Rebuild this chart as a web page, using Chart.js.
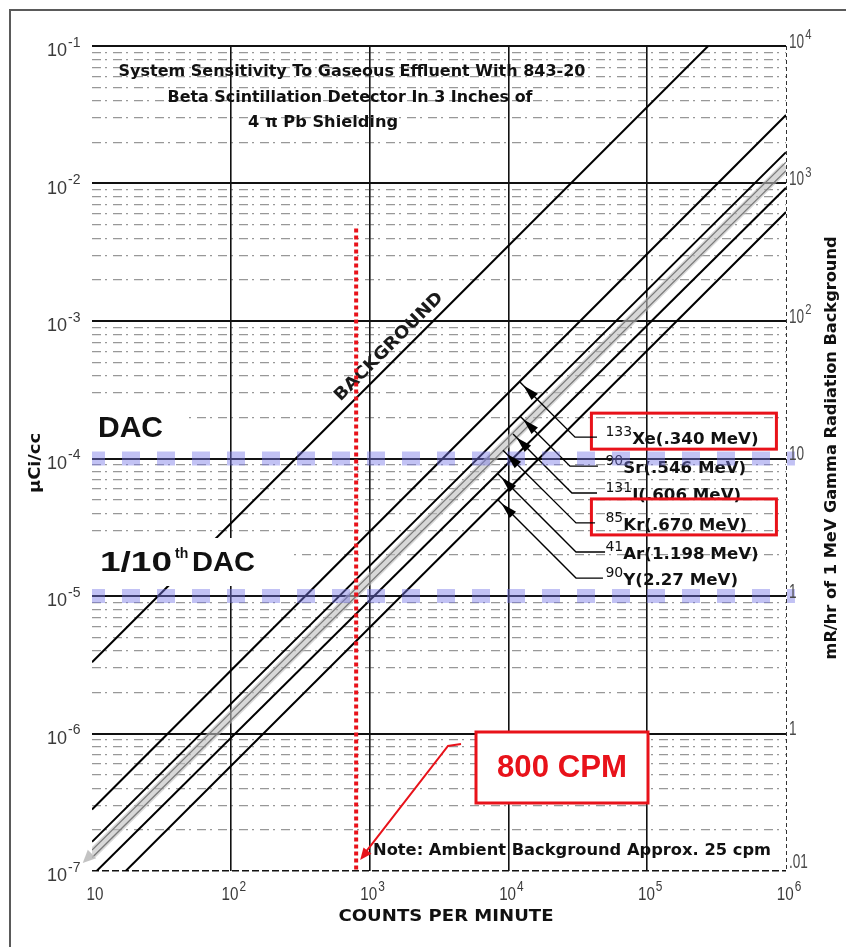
<!DOCTYPE html>
<html>
<head>
<meta charset="utf-8">
<title>System Sensitivity To Gaseous Effluent</title>
<script src="https://cdn.jsdelivr.net/npm/chart.js@4.4.1/dist/chart.umd.min.js"></script>
<style>
  html, body { margin: 0; padding: 0; background: #fff; }
  #wrap { width: 846px; height: 947px; }
</style>
</head>
<body>
<div id="wrap"><canvas id="chart" width="846" height="947"></canvas></div>
<script>
// axes: counts per minute (x) and uCi/cc (y), right axis mR/hr
const xDecades = [10, 1e2, 1e3, 1e4, 1e5, 1e6];
const xTickExp = ["", "2", "3", "4", "5", "6"];
const yDecades = [1e-7, 1e-6, 1e-5, 1e-4, 1e-3, 1e-2, 1e-1];
const yTickExp = ["-7", "-6", "-5", "-4", "-3", "-2", "-1"];
const rightTickBase = [".01", "1", "1", "10", "10", "10", "10"];
const rightTickExp = ["", "", "", "", "2", "3", "4"];
const minorSteps = [2, 3, 4, 5, 6, 7, 8, 9];

// sensitivity lines, end points (cpm, uCi/cc)
const backgroundCpm = [10, 2.75e5];
const backgroundConc = [3.3e-6, 1e-1];
const lineACpm = [10, 1e6];
const lineAConc = [2.8e-7, 3.15e-2];
const lineBCpm = [10, 1e6];
const lineBConc = [1.63e-7, 1.69e-2];
const greyHiCpm = [10, 1e6];
const greyHiConc = [1.42e-7, 1.43e-2];
const greyLoCpm = [10, 1e6];
const greyLoConc = [1.25e-7, 1.24e-2];
const bandCpm = [10, 1e6];
const bandConc = [1.33e-7, 1.33e-2];
const lineCCpm = [10.8, 1e6];
const lineCConc = [1e-7, 9.3e-3];
const lineDCpm = [17.5, 1e6];
const lineDConc = [1e-7, 6.2e-3];

// isotope call-outs
const isotopeMass = ["133", "90", "131", "85", "41", "90"];
const isotopeName = ["Xe(.340 MeV)", "Sr(.546 MeV)", "I(.606 MeV)", "Kr(.670 MeV)", "Ar(1.198 MeV)", "Y(2.27 MeV)"];
const isotopeBoxed = [true, false, false, true, false, false];
const leaderStartCpm = [1.21e4, 1.21e4, 1.08e4, 9.14e3, 8.42e3, 8.42e3];
const leaderStartConc = [3.6e-4, 2.04e-4, 1.51e-4, 1.15e-4, 7.72e-5, 4.99e-5];
const leaderElbowCpm = [3.02e4, 2.78e4, 2.87e4, 3.07e4, 3.07e4, 3.07e4];
const leaderElbowConc = [1.43e-4, 8.8e-5, 5.61e-5, 3.4e-5, 2.09e-5, 1.35e-5];
const leaderEndCpm = [4.35e4, 4.42e4, 4.35e4, 4.21e4, 4.97e4, 4.8e4];
const labelCpm = 5.0e4;

// DAC levels and the 800 cpm marker
const dacCpm = [10, 1.16e6];
const dacLevels = [1e-4, 1e-5];
const markerCpm = [800, 800];
const markerConc = [4.7e-3, 1e-7];

const RED = "#e8121a";

function pts(xs, ys) {
  return xs.map((x, i) => ({ x: x, y: ys[i] }));
}

function isDecade(v) {
  const l = Math.log10(v);
  return Math.abs(l - Math.round(l)) < 1e-6;
}

// draw text, optionally squeezed to a width or by a horizontal factor
function txt(ctx, s, x, y, font, color, opts) {
  opts = opts || {};
  ctx.save();
  ctx.font = font;
  ctx.fillStyle = color;
  ctx.textBaseline = "middle";
  ctx.textAlign = "left";
  const w = ctx.measureText(s).width;
  const sx = opts.width ? opts.width / w : (opts.sx || 1);
  const align = opts.align || "left";
  const left = align === "center" ? x - w * sx / 2 : align === "right" ? x - w * sx : x;
  ctx.translate(left, y);
  ctx.scale(sx, 1);
  ctx.fillText(s, 0, 0);
  ctx.restore();
  return w * sx;
}

function arrowHead(ctx, tipX, tipY, fromX, fromY, len, half, color) {
  const a = Math.atan2(tipY - fromY, tipX - fromX);
  ctx.save();
  ctx.translate(tipX, tipY);
  ctx.rotate(a);
  ctx.beginPath();
  ctx.moveTo(0, 0);
  ctx.lineTo(-len, -half);
  ctx.lineTo(-len, half);
  ctx.closePath();
  ctx.fillStyle = color;
  ctx.fill();
  ctx.restore();
}

const yGrid = [];
yDecades.forEach(d => {
  yGrid.push(d);
  if (d < 1e-1) minorSteps.forEach(m => yGrid.push(d * m));
});

const overlay = {
  id: "overlay",
  beforeDatasetsDraw(chart) {
    const ctx = chart.ctx;
    const xs = chart.scales.x, ys = chart.scales.y;
    const titleFont = 'bold 15px "DejaVu Sans"';
    txt(ctx, "System Sensitivity To Gaseous Effluent With 843-20", 352, 72, titleFont, "#111", { align: "center", width: 467 });
    txt(ctx, "Beta Scintillation Detector In 3 Inches of", 350, 98, titleFont, "#111", { align: "center", width: 365 });
    txt(ctx, "4 \u03c0 Pb Shielding", 323, 123, titleFont, "#111", { align: "center", width: 150 });

    ctx.save();
    ctx.translate(389, 347);
    ctx.rotate(-Math.PI / 4);
    txt(ctx, "BACKGROUND", 0, 0, 'bold 17px "DejaVu Sans"', "#1a1a1a", { align: "center", width: 146 });
    ctx.restore();

    const lx = xs.getPixelForValue(labelCpm);
    isotopeName.forEach((name, i) => {
      const y = ys.getPixelForValue(leaderElbowConc[i]) + 3;
      const w1 = txt(ctx, isotopeMass[i], lx, y - 8, '14px "DejaVu Sans"', "#111");
      txt(ctx, name, lx + w1, y, 'bold 16px "DejaVu Sans"', "#111", { sx: 1.04 });
      if (isotopeBoxed[i]) {
        ctx.save();
        ctx.strokeStyle = RED;
        ctx.lineWidth = 3;
        ctx.strokeRect(lx - 14, y - 27, 185, 36);
        ctx.restore();
      }
    });

    txt(ctx, "Note: Ambient Background Approx. 25 cpm", 373, 851, 'bold 15px "DejaVu Sans"', "#111", { width: 398 });
  },
  afterDatasetsDraw(chart) {
    const ctx = chart.ctx;
    const xs = chart.scales.x, ys = chart.scales.y;

    // arrow heads on the isotope leaders
    leaderStartCpm.forEach((c, i) => {
      const sx = xs.getPixelForValue(c), sy = ys.getPixelForValue(leaderStartConc[i]);
      const ex = xs.getPixelForValue(leaderElbowCpm[i]), ey = ys.getPixelForValue(leaderElbowConc[i]);
      const len = Math.hypot(ex - sx, ey - sy);
      const dx = (ex - sx) / len, dy = (ey - sy) / len;
      arrowHead(ctx, sx + dx * 5, sy + dy * 5, sx + dx * 25, sy + dy * 25, 16, 4.5, "#000");
    });

    // grey band end arrow
    const b0x = xs.getPixelForValue(bandCpm[0]), b0y = ys.getPixelForValue(bandConc[0]);
    const b1x = xs.getPixelForValue(bandCpm[1]), b1y = ys.getPixelForValue(bandConc[1]);
    const bl = Math.hypot(b0x - b1x, b0y - b1y);
    const ux = (b0x - b1x) / bl, uy = (b0y - b1y) / bl;
    arrowHead(ctx, b0x + ux * 13, b0y + uy * 13, b0x, b0y, 13, 6, "rgba(185,185,185,0.85)");

    // DAC labels on white
    ctx.fillStyle = "#fff";
    ctx.fillRect(92, 407, 93, 43);
    ctx.fillRect(92, 538, 198, 48);
    txt(ctx, "DAC", 98, 429, 'bold 30px "Liberation Sans"', "#111", { width: 65 });
    txt(ctx, "1/10", 100, 563, 'bold 28px "Liberation Sans"', "#111", { width: 72 });
    txt(ctx, "th", 175, 554, 'bold 14px "Liberation Sans"', "#111");
    txt(ctx, "DAC", 192, 563, 'bold 28px "Liberation Sans"', "#111", { width: 63 });

    // 800 CPM call-out
    ctx.save();
    ctx.fillStyle = "#fff";
    ctx.fillRect(476, 732, 172, 71);
    ctx.strokeStyle = RED;
    ctx.lineWidth = 3;
    ctx.strokeRect(476, 732, 172, 71);
    const tipX = xs.getPixelForValue(markerCpm[0]) + 4;
    const tipY = ys.getPixelForValue(1.2e-7);
    ctx.lineWidth = 2;
    ctx.beginPath();
    ctx.moveTo(461, 744);
    ctx.lineTo(448, 746);
    ctx.lineTo(tipX + 4, tipY - 6);
    ctx.stroke();
    ctx.restore();
    arrowHead(ctx, tipX, tipY, 448, 746, 12, 5, RED);
    txt(ctx, "800 CPM", 562, 768, 'bold 31px "Liberation Sans"', RED, { align: "center", width: 130 });

    // tick labels
    const tickCol = "#3a3a3a";
    yDecades.forEach((v, i) => {
      const py = ys.getPixelForValue(v);
      const w = txt(ctx, "10", 47, py + 5, '19px "Liberation Sans"', tickCol, { sx: 0.95 });
      txt(ctx, yTickExp[i], 48 + w, py - 3, '14px "Liberation Sans"', tickCol);
      const rb = txt(ctx, rightTickBase[i], 789, py - (i === 0 ? 9 : 4), '20px "Liberation Sans"', "#4a4a4a", { sx: 0.68 });
      if (rightTickExp[i]) txt(ctx, rightTickExp[i], 790 + rb, py - 11, '15px "Liberation Sans"', "#4a4a4a", { sx: 0.75 });
    });
    xDecades.forEach((v, i) => {
      const px = xs.getPixelForValue(v);
      ctx.font = '19px "Liberation Sans"';
      const wb = ctx.measureText("10").width * 0.8;
      ctx.font = '14px "Liberation Sans"';
      const we = xTickExp[i] ? ctx.measureText(xTickExp[i]).width * 0.85 + 1 : 0;
      const left = px + 3 - (wb + we) / 2;
      txt(ctx, "10", left, 895, '19px "Liberation Sans"', tickCol, { sx: 0.8 });
      if (xTickExp[i]) txt(ctx, xTickExp[i], left + wb + 1, 887, '14px "Liberation Sans"', tickCol, { sx: 0.85 });
    });

    // axis titles
    ctx.save();
    ctx.translate(36, 463);
    ctx.rotate(-Math.PI / 2);
    txt(ctx, "\u00b5Ci/cc", 0, 0, 'bold 16px "DejaVu Sans"', "#111", { align: "center", width: 60 });
    ctx.restore();
    txt(ctx, "COUNTS PER MINUTE", 446, 917, 'bold 15px "DejaVu Sans"', "#111", { align: "center", width: 215 });
    ctx.save();
    ctx.translate(832, 448);
    ctx.rotate(-Math.PI / 2);
    txt(ctx, "mR/hr of 1 MeV Gamma Radiation Background", 0, 0, 'bold 15px "DejaVu Sans"', "#111", { align: "center", width: 423 });
    ctx.restore();

    // outer frame
    ctx.save();
    ctx.strokeStyle = "#5a5a5a";
    ctx.lineWidth = 2;
    ctx.beginPath();
    ctx.moveTo(10, 947);
    ctx.lineTo(10, 10);
    ctx.lineTo(846, 10);
    ctx.stroke();
    ctx.restore();
  }
};

const black = { borderColor: "#000", borderWidth: 2 };
const datasets = [
  { label: "800 cpm", data: pts(markerCpm, markerConc), borderColor: RED, borderWidth: 4, borderDash: [4, 3], clip: 8 },
  { label: "DAC", data: pts(dacCpm, [dacLevels[0], dacLevels[0]]), borderColor: "rgba(120,120,230,0.45)", borderWidth: 14, borderDash: [18, 17], borderDashOffset: 5, clip: { left: 0, top: 10, right: 14, bottom: 10 } },
  { label: "1/10th DAC", data: pts(dacCpm, [dacLevels[1], dacLevels[1]]), borderColor: "rgba(120,120,230,0.45)", borderWidth: 14, borderDash: [18, 17], borderDashOffset: 5, clip: { left: 0, top: 10, right: 14, bottom: 10 } }
];
isotopeName.forEach((name, i) => {
  datasets.push({
    label: isotopeMass[i] + name,
    data: pts([leaderStartCpm[i], leaderElbowCpm[i], leaderEndCpm[i]], [leaderStartConc[i], leaderElbowConc[i], leaderElbowConc[i]]),
    borderColor: "#000", borderWidth: 1.4
  });
});
datasets.push(
  Object.assign({ label: "Background", data: pts(backgroundCpm, backgroundConc) }, black),
  Object.assign({ label: "A", data: pts(lineACpm, lineAConc) }, black),
  Object.assign({ label: "B", data: pts(lineBCpm, lineBConc) }, black),
  Object.assign({ label: "C", data: pts(lineCCpm, lineCConc) }, black),
  Object.assign({ label: "D", data: pts(lineDCpm, lineDConc) }, black),
  { label: "grey hi", data: pts(greyHiCpm, greyHiConc), borderColor: "#7a7a7a", borderWidth: 1.3 },
  { label: "grey lo", data: pts(greyLoCpm, greyLoConc), borderColor: "#7a7a7a", borderWidth: 1.3 },
  { label: "band", data: pts(bandCpm, bandConc), borderColor: "rgba(190,190,190,0.6)", borderWidth: 10 }
);

new Chart(document.getElementById("chart").getContext("2d"), {
  type: "scatter",
  data: { datasets: datasets },
  options: {
    responsive: false,
    animation: false,
    devicePixelRatio: 1,
    events: [],
    layout: { padding: { left: 92, right: 60, top: 46, bottom: 76 } },
    showLine: true,
    elements: { point: { radius: 0 }, line: { tension: 0, fill: false, borderCapStyle: "butt" } },
    plugins: { legend: { display: false }, tooltip: { enabled: false } },
    scales: {
      x: {
        type: "logarithmic",
        min: 10,
        max: 1e6,
        afterBuildTicks: s => { s.ticks = xDecades.map(v => ({ value: v })); },
        ticks: { display: false },
        grid: {
          drawTicks: false,
          color: c => !c.tick || c.tick.value <= 10 ? "rgba(0,0,0,0)" : (c.tick.value >= 1e6 ? "#333" : "#111"),
          lineWidth: c => c.tick && c.tick.value >= 1e6 ? 1 : 1.6
        },
        border: { display: false, dash: c => c.tick && c.tick.value >= 1e6 ? [4, 3] : [] }
      },
      y: {
        type: "logarithmic",
        min: 1e-7,
        max: 1e-1,
        afterBuildTicks: s => { s.ticks = yGrid.slice().sort((a, b) => a - b).map(v => ({ value: v })); },
        ticks: { display: false },
        grid: {
          drawTicks: false,
          color: c => !c.tick ? "#111" : (isDecade(c.tick.value) ? "#111" : "rgba(50,50,50,0.5)"),
          lineWidth: c => !c.tick ? 1 : (isDecade(c.tick.value) ? (c.tick.value < 2e-7 ? 1.5 : 2) : 1.2)
        },
        border: {
          display: false,
          dash: c => !c.tick ? [] : (isDecade(c.tick.value) ? (c.tick.value < 2e-7 ? [7, 3] : []) : [9, 4, 2, 6])
        }
      }
    }
  },
  plugins: [overlay]
});
</script>
</body>
</html>
